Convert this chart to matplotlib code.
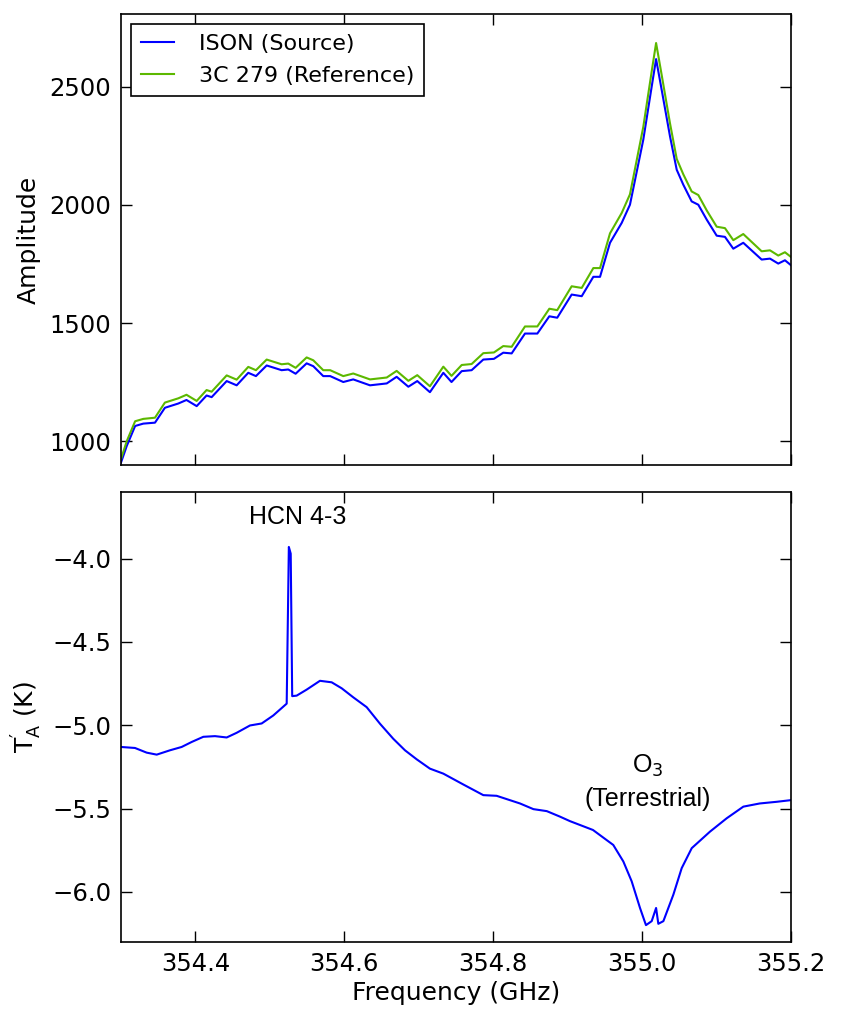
import matplotlib
matplotlib.use("Agg")
import matplotlib.pyplot as plt

# ---------------- data ----------------
freq_top = [354.300, 354.3077, 354.319, 354.330, 354.3457, 354.359, 354.377, 354.388,
            354.4017, 354.415, 354.4218, 354.442, 354.4554, 354.471, 354.4813, 354.4957,
            354.5158, 354.5247, 354.5346, 354.5494, 354.5583, 354.5717, 354.581, 354.5986,
            354.612, 354.6345, 354.657, 354.6703, 354.686, 354.698, 354.715, 354.733,
            354.744, 354.7577, 354.771, 354.7867, 354.801, 354.8135, 354.8248, 354.8427,
            354.8593, 354.8754, 354.886, 354.9054, 354.9189, 354.9345, 354.9435, 354.9569,
            354.9726, 354.9837, 355.0016, 355.0129, 355.0188, 355.0263, 355.0375, 355.0465,
            355.0553, 355.0666, 355.0755, 355.0868, 355.1002, 355.1113, 355.1225, 355.1359,
            355.1606, 355.1718, 355.1829, 355.1919, 355.200]
ison_amp = [910, 980, 1065, 1075, 1079, 1142, 1160, 1175,
            1149, 1194, 1187, 1255, 1237, 1290, 1276, 1321,
            1301, 1304, 1286, 1330, 1318, 1276, 1276, 1251,
            1262, 1237, 1245, 1273, 1231, 1255, 1208, 1290,
            1251, 1297, 1301, 1346, 1349, 1375, 1372, 1456,
            1456, 1529, 1523, 1621, 1614, 1696, 1696, 1840,
            1924, 2001, 2276, 2501, 2617, 2487, 2290, 2149,
            2086, 2015, 2001, 1938, 1870, 1865, 1815, 1840,
            1769, 1773, 1752, 1766, 1745]
ref_amp = [925, 1000, 1085, 1095, 1100, 1164, 1182, 1197,
           1171, 1217, 1210, 1279, 1261, 1315, 1301, 1346,
           1326, 1329, 1311, 1355, 1343, 1301, 1301, 1276,
           1287, 1262, 1270, 1298, 1256, 1280, 1233, 1316,
           1277, 1323, 1327, 1373, 1376, 1403, 1400, 1486,
           1486, 1561, 1555, 1656, 1649, 1733, 1733, 1880,
           1966, 2045, 2330, 2565, 2685, 2550, 2345, 2195,
           2130, 2057, 2042, 1977, 1908, 1902, 1851, 1877,
           1804, 1808, 1786, 1800, 1780]

freq_bot = [354.300, 354.3188, 354.3345, 354.348, 354.3658, 354.3815, 354.395, 354.4106,
            354.4263, 354.442, 354.4554, 354.4733, 354.489, 354.5046, 354.5226, 354.5255,
            354.5280, 354.5300, 354.536, 354.5494, 354.5673, 354.583, 354.5965, 354.612,
            354.630, 354.648, 354.6658, 354.6815, 354.6972, 354.715, 354.733, 354.7598,
            354.7867, 354.8046, 354.836, 354.854, 354.872, 354.8897, 354.9031, 354.934,
            354.9613, 354.9748, 354.986, 354.9972, 355.0052, 355.0129, 355.0188, 355.0218,
            355.0286, 355.042, 355.0532, 355.0667, 355.0912, 355.1136, 355.136, 355.158,
            355.1807, 355.200]
ison_ta = [-5.130, -5.136, -5.164, -5.176, -5.150, -5.130, -5.100, -5.069,
           -5.065, -5.073, -5.045, -5.001, -4.989, -4.941, -4.870, -3.930,
           -3.970, -4.825, -4.822, -4.786, -4.733, -4.742, -4.778, -4.832,
           -4.891, -4.991, -5.081, -5.150, -5.204, -5.260, -5.290, -5.355,
           -5.419, -5.423, -5.469, -5.503, -5.515, -5.548, -5.575, -5.628,
           -5.718, -5.817, -5.936, -6.096, -6.199, -6.175, -6.096, -6.191,
           -6.175, -6.016, -5.857, -5.737, -5.638, -5.558, -5.488, -5.469,
           -5.459, -5.449]

top_yticks = [1000, 1500, 2000, 2500]
bot_yticks = [-4.0, -4.5, -5.0, -5.5, -6.0]
xticks = [354.4, 354.6, 354.8, 355.0, 355.2]

BLUE = "#0000ff"
GREEN = "#5cb800"

# ---------------- figure ----------------
plt.rcParams["font.family"] = "DejaVu Sans"
fig = plt.figure(figsize=(8.43, 10.26), dpi=100)
ax1 = fig.add_axes([0.1435, 0.5468, 0.7948, 0.4396])
ax2 = fig.add_axes([0.1435, 0.0819, 0.7948, 0.4386])

ax1.plot(freq_top, ison_amp, color=BLUE, lw=1.5, label="ISON (Source)")
ax1.plot(freq_top, ref_amp, color=GREEN, lw=1.5, label="3C 279 (Reference)")
ax1.set_xlim(354.3, 355.2)
ax1.set_ylim(900, 2808)
ax1.set_yticks(top_yticks)
ax1.set_xticks(xticks)
ax1.set_xticklabels([])
ax1.set_ylabel("Amplitude", fontsize=18, labelpad=6)
leg = ax1.legend(loc="upper left", fontsize=16, fancybox=False, framealpha=1,
                 edgecolor="black", handlelength=1.5, borderpad=0.45,
                 labelspacing=0.55, handletextpad=1.1, borderaxespad=0.45)
leg.get_frame().set_linewidth(1.2)

ax2.plot(freq_bot, ison_ta, color=BLUE, lw=1.5)
ax2.set_xlim(354.3, 355.2)
ax2.set_ylim(-6.3, -3.6)
ax2.set_yticks(bot_yticks)
ax2.set_yticklabels(["\u22124.0", "\u22124.5", "\u22125.0", "\u22125.5", "\u22126.0"])
ax2.set_xticks(xticks)
ax2.set_xticklabels(["354.4", "354.6", "354.8", "355.0", "355.2"])
ax2.set_xlabel("Frequency (GHz)", fontsize=18, labelpad=4)
ax2.set_ylabel(r"$\mathregular{T_A^{\prime}}$ (K)", fontsize=18, labelpad=6)

ax2.text(354.5378, -3.75, "HCN 4-3", fontsize=18, family="Liberation Sans",
         ha="center", va="center")
ax2.text(355.008, -5.245, r"O$_3$", fontsize=18, family="Liberation Sans",
         ha="center", va="center")
ax2.text(355.008, -5.44, "(Terrestrial)", fontsize=18, family="Liberation Sans",
         ha="center", va="center")

for ax in (ax1, ax2):
    ax.tick_params(direction="in", top=True, right=True, length=8, width=1,
                   labelsize=17.5, pad=7)
    for s in ax.spines.values():
        s.set_linewidth(1.2)

fig.savefig("out.png", dpi=100)
